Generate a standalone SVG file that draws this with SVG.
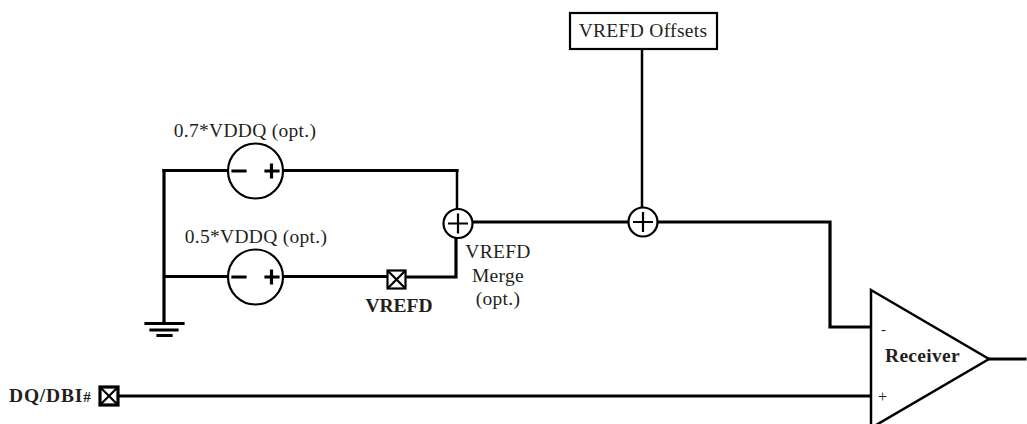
<svg xmlns="http://www.w3.org/2000/svg" width="1027" height="424" viewBox="0 0 1027 424">
<style>
text{font-family:"Liberation Serif","Times New Roman",serif;font-size:19.500px;letter-spacing:.3px;fill:#231f20}
.b{font-weight:bold}
.m{text-anchor:middle}
.w{fill:none;stroke:#000;stroke-width:3.200;stroke-linecap:square;stroke-linejoin:miter}
.t{fill:none;stroke:#000;stroke-width:2.500}
.s{fill:#fff;stroke:#000;stroke-width:2.200}
.g{fill:none;stroke:#000;stroke-width:2.200}
</style>
<g id="connectors">
<path class="w" d="M164 170.500H228M284 170.500H457"/>
<path class="t" d="M457 170.500V210"/>
<path class="w" d="M164 170.500V323M164 276.500H228M284 276.500H387M405 277H456V238"/>
<path class="w" d="M473 222H628M658 222H830V327H870"/>
<path class="t" d="M642 49V208"/>
<path class="w" d="M118 396H870"/>
<path class="w" d="M989 359H1025"/>
</g>
<g id="ground"><path class="w" d="M146 323.500H183M151 330H177M158 335.500H171"/></g>
<g id="source-07">
<circle class="s" cx="255.500" cy="171" r="27.500"/>
<path class="w" d="M233 171H245M266 171H278M271.500 165V177"/>
<text class="m" x="245" y="136.500">0.7*VDDQ (opt.)</text>
</g>
<g id="source-05">
<circle class="s" cx="255.500" cy="277" r="27.500"/>
<path class="w" d="M233 277H245M266 277H278M271.500 271V283"/>
<text class="m" x="256" y="243">0.5*VDDQ (opt.)</text>
</g>
<g id="vrefd-pin">
<rect class="s" x="387.500" y="270.500" width="18" height="18"/>
<path class="g" d="M388 271L405 288M405 271L388 288"/>
<text class="m b" x="399" y="312" style="letter-spacing:0">VREFD</text>
</g>
<g id="merge">
<circle class="s" cx="458" cy="223.500" r="14.500"/>
<path class="g" d="M448 223.500H468M458 213.500V233.500"/>
<text class="m" x="498" y="258">VREFD</text>
<text class="m" x="498" y="282">Merge</text>
<text class="m" x="498" y="305">(opt.)</text>
</g>
<g id="offset-sum">
<circle class="s" cx="643" cy="222" r="14.500"/>
<path class="g" d="M633 222H653M643 212V232"/>
</g>
<g id="offsets">
<rect class="s" x="570" y="13" width="147" height="36"/>
<text class="m" x="643" y="37">VREFD Offsets</text>
</g>
<g id="receiver">
<path class="t" d="M871 290L989 359L871 428Z" fill="#fff"/>
<text x="881" y="334" style="font-size:15px">-</text>
<text x="878" y="402" style="font-size:16px">+</text>
<text class="m b" x="922.500" y="362">Receiver</text>
</g>
<g id="dq">
<rect class="w" x="100" y="387" width="18" height="18" style="fill:#fff"/>
<path class="g" d="M100 387L118 405M118 387L100 405"/>
<text class="b" x="9" y="402" style="letter-spacing:.8px">DQ/DBI<tspan style="font-size:15px;letter-spacing:0">#</tspan></text>
</g>
</svg>
